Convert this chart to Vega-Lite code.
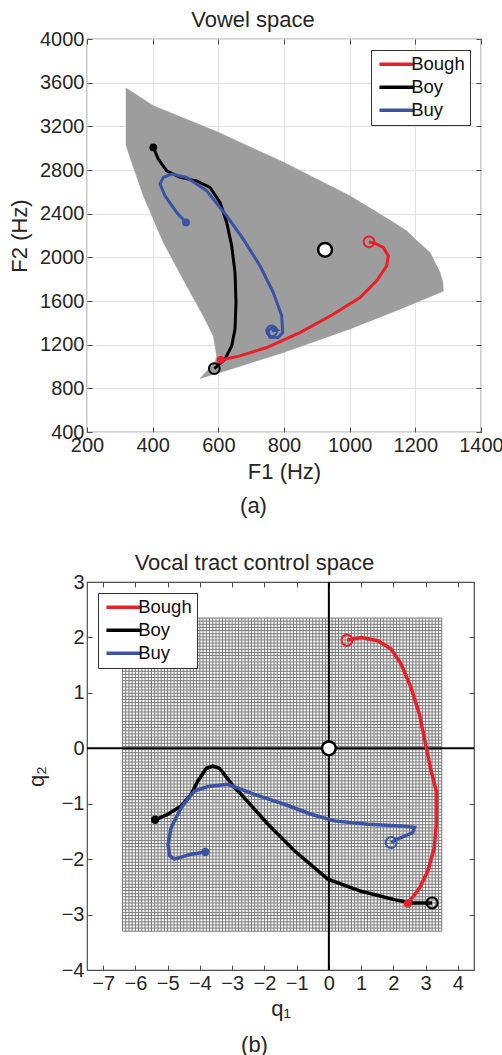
{
"$schema": "https://vega.github.io/schema/vega-lite/v6.json",
"padding": {"left": 7, "top": 8, "right": 5, "bottom": 0},
"bounds": "flush",
"spacing": 150,
"datasets": {
"meshA": [
{"F1":318.8,"F2":3551},{"F1":318.8,"F2":3028},{"F1":336.1,"F2":2870},{"F1":371.5,"F2":2564},{"F1":432.4,"F2":2136},{"F1":503.7,"F2":1738},{"F1":554.2,"F2":1463},{"F1":584.7,"F2":1280},{"F1":595,"F2":1097},{"F1":589.9,"F2":1039},{"F1":544.2,"F2":890},
{"F1":605,"F2":945},{"F1":797.9,"F2":1128},{"F1":999,"F2":1342},{"F1":1153,"F2":1525},{"F1":1285,"F2":1690},
{"F1":1284,"F2":1772},{"F1":1275.2,"F2":1861},{"F1":1244.7,"F2":2045},{"F1":1199,"F2":2167},{"F1":1173.7,"F2":2243},{"F1":1092.4,"F2":2396},{"F1":1000,"F2":2564},{"F1":799,"F2":2870},{"F1":600,"F2":3145},{"F1":402,"F2":3389},{"F1":318.8,"F2":3551}
],
"trajA": [
{"w":"Boy","F1":401.9,"F2":3007},{"w":"Boy","F1":417.2,"F2":2900},{"w":"Boy","F1":442.7,"F2":2793},{"w":"Boy","F1":483.3,"F2":2732},{"w":"Boy","F1":534.1,"F2":2701},{"w":"Boy","F1":574.6,"F2":2641},{"w":"Boy","F1":605.1,"F2":2503},{"w":"Boy","F1":625.5,"F2":2320},{"w":"Boy","F1":640.7,"F2":2105},{"w":"Boy","F1":650.8,"F2":1861},{"w":"Boy","F1":653.8,"F2":1586},{"w":"Boy","F1":650.8,"F2":1342},{"w":"Boy","F1":640.7,"F2":1188},{"w":"Boy","F1":620.3,"F2":1067},{"w":"Boy","F1":587.7,"F2":981},
{"w":"Bough","F1":607.2,"F2":1060},{"w":"Bough","F1":666,"F2":1097},{"w":"Bough","F1":747.3,"F2":1174},{"w":"Bough","F1":848.7,"F2":1311},{"w":"Bough","F1":950.2,"F2":1479},{"w":"Bough","F1":1031.5,"F2":1632},{"w":"Bough","F1":1082.3,"F2":1784},{"w":"Bough","F1":1112.8,"F2":1922},{"w":"Bough","F1":1117.7,"F2":2013},{"w":"Bough","F1":1102.4,"F2":2091},{"w":"Bough","F1":1077.2,"F2":2127},{"w":"Bough","F1":1058.9,"F2":2142},
{"w":"Buy","F1":501.5,"F2":2320},{"w":"Buy","F1":473.2,"F2":2411},{"w":"Buy","F1":437.6,"F2":2564},{"w":"Buy","F1":422.3,"F2":2671},{"w":"Buy","F1":432.4,"F2":2732},{"w":"Buy","F1":458,"F2":2762},{"w":"Buy","F1":503.7,"F2":2732},{"w":"Buy","F1":564.6,"F2":2609},{"w":"Buy","F1":625.5,"F2":2380},{"w":"Buy","F1":676,"F2":2167},{"w":"Buy","F1":726.9,"F2":1922},{"w":"Buy","F1":767.4,"F2":1678},{"w":"Buy","F1":793,"F2":1464},{"w":"Buy","F1":796,"F2":1311},{"w":"Buy","F1":782.6,"F2":1265},{"w":"Buy","F1":757,"F2":1268},{"w":"Buy","F1":751,"F2":1330},{"w":"Buy","F1":764,"F2":1360},{"w":"Buy","F1":778,"F2":1335},{"w":"Buy","F1":763,"F2":1326}
],
"startA": [{"w":"Bough","F1":607,"F2":1060},{"w":"Boy","F1":402,"F2":3007},{"w":"Buy","F1":501.5,"F2":2320}],
"endA": [{"w":"Bough","F1":1059,"F2":2142},{"w":"Boy","F1":587.7,"F2":981},{"w":"Buy","F1":762.5,"F2":1326}],
"neutralA": [{"F1":925,"F2":2069}],
"gx": [{"q1":-6.4},{"q1":-6.3},{"q1":-6.2},{"q1":-6.1},{"q1":-6.0},{"q1":-5.9},{"q1":-5.8},{"q1":-5.7},{"q1":-5.6},{"q1":-5.5},{"q1":-5.4},{"q1":-5.3},{"q1":-5.2},{"q1":-5.1},{"q1":-5.0},{"q1":-4.9},{"q1":-4.8},{"q1":-4.7},{"q1":-4.6},{"q1":-4.5},{"q1":-4.4},{"q1":-4.3},{"q1":-4.2},{"q1":-4.1},{"q1":-4.0},{"q1":-3.9},{"q1":-3.8},{"q1":-3.7},{"q1":-3.6},{"q1":-3.5},{"q1":-3.4},{"q1":-3.3},{"q1":-3.2},{"q1":-3.1},{"q1":-3.0},{"q1":-2.9},{"q1":-2.8},{"q1":-2.7},{"q1":-2.6},{"q1":-2.5},{"q1":-2.4},{"q1":-2.3},{"q1":-2.2},{"q1":-2.1},{"q1":-2.0},{"q1":-1.9},{"q1":-1.8},{"q1":-1.7},{"q1":-1.6},{"q1":-1.5},{"q1":-1.4},{"q1":-1.3},{"q1":-1.2},{"q1":-1.1},{"q1":-1.0},{"q1":-0.9},{"q1":-0.8},{"q1":-0.7},{"q1":-0.6},{"q1":-0.5},{"q1":-0.4},{"q1":-0.3},{"q1":-0.2},{"q1":-0.1},{"q1":0},{"q1":0.1},{"q1":0.2},{"q1":0.3},{"q1":0.4},{"q1":0.5},{"q1":0.6},{"q1":0.7},{"q1":0.8},{"q1":0.9},{"q1":1.0},{"q1":1.1},{"q1":1.2},{"q1":1.3},{"q1":1.4},{"q1":1.5},{"q1":1.6},{"q1":1.7},{"q1":1.8},{"q1":1.9},{"q1":2.0},{"q1":2.1},{"q1":2.2},{"q1":2.3},{"q1":2.4},{"q1":2.5},{"q1":2.6},{"q1":2.7},{"q1":2.8},{"q1":2.9},{"q1":3.0},{"q1":3.1},{"q1":3.2},{"q1":3.3},{"q1":3.4},{"q1":3.5}],
"gy": [{"q2":-3.3},{"q2":-3.2435},{"q2":-3.187},{"q2":-3.1305},{"q2":-3.074},{"q2":-3.0175},{"q2":-2.961},{"q2":-2.9045},{"q2":-2.848},{"q2":-2.7915},{"q2":-2.735},{"q2":-2.6785},{"q2":-2.622},{"q2":-2.5655},{"q2":-2.509},{"q2":-2.4525},{"q2":-2.396},{"q2":-2.3395},{"q2":-2.283},{"q2":-2.2265},{"q2":-2.17},{"q2":-2.1135},{"q2":-2.057},{"q2":-2.0005},{"q2":-1.944},{"q2":-1.8875},{"q2":-1.831},{"q2":-1.7745},{"q2":-1.718},{"q2":-1.6615},{"q2":-1.605},{"q2":-1.5485},{"q2":-1.492},{"q2":-1.4355},{"q2":-1.379},{"q2":-1.3225},{"q2":-1.266},{"q2":-1.2095},{"q2":-1.153},{"q2":-1.0965},{"q2":-1.04},{"q2":-0.9835},{"q2":-0.927},{"q2":-0.8705},{"q2":-0.814},{"q2":-0.7575},{"q2":-0.701},{"q2":-0.6445},{"q2":-0.588},{"q2":-0.5315},{"q2":-0.475},{"q2":-0.4185},{"q2":-0.362},{"q2":-0.3055},{"q2":-0.249},{"q2":-0.1925},{"q2":-0.136},{"q2":-0.0795},{"q2":-0.023},{"q2":0.0335},{"q2":0.09},{"q2":0.1465},{"q2":0.203},{"q2":0.2595},{"q2":0.316},{"q2":0.3725},{"q2":0.429},{"q2":0.4855},{"q2":0.542},{"q2":0.5985},{"q2":0.655},{"q2":0.7115},{"q2":0.768},{"q2":0.8245},{"q2":0.881},{"q2":0.9375},{"q2":0.994},{"q2":1.0505},{"q2":1.107},{"q2":1.1635},{"q2":1.22},{"q2":1.2765},{"q2":1.333},{"q2":1.3895},{"q2":1.446},{"q2":1.5025},{"q2":1.559},{"q2":1.6155},{"q2":1.672},{"q2":1.7285},{"q2":1.785},{"q2":1.8415},{"q2":1.898},{"q2":1.9545},{"q2":2.011},{"q2":2.0675},{"q2":2.124},{"q2":2.1805},{"q2":2.237},{"q2":2.2935},{"q2":2.35}],
"trajB": [
{"w":"Boy","q1":-5.39,"q2":-1.29},{"w":"Boy","q1":-4.99,"q2":-1.19},{"w":"Boy","q1":-4.58,"q2":-1.04},{"w":"Boy","q1":-4.27,"q2":-0.83},{"w":"Boy","q1":-4.06,"q2":-0.59},{"w":"Boy","q1":-3.8,"q2":-0.36},{"w":"Boy","q1":-3.6,"q2":-0.32},{"w":"Boy","q1":-3.39,"q2":-0.36},{"w":"Boy","q1":-2.93,"q2":-0.71},{"w":"Boy","q1":-2.72,"q2":-0.83},{"w":"Boy","q1":-1.89,"q2":-1.37},{"w":"Boy","q1":-1.07,"q2":-1.85},{"w":"Boy","q1":-0.03,"q2":-2.36},{"w":"Boy","q1":1.0,"q2":-2.58},{"w":"Boy","q1":2.03,"q2":-2.73},{"w":"Boy","q1":2.55,"q2":-2.79},{"w":"Boy","q1":3.2,"q2":-2.79},
{"w":"Bough","q1":2.45,"q2":-2.8},{"w":"Bough","q1":2.81,"q2":-2.52},{"w":"Bough","q1":3.07,"q2":-2.21},{"w":"Bough","q1":3.27,"q2":-1.79},{"w":"Bough","q1":3.33,"q2":-1.37},{"w":"Bough","q1":3.33,"q2":-0.77},{"w":"Bough","q1":3.17,"q2":-0.41},{"w":"Bough","q1":3.02,"q2":0.01},{"w":"Bough","q1":2.81,"q2":0.61},{"w":"Bough","q1":2.55,"q2":1.09},{"w":"Bough","q1":2.24,"q2":1.52},{"w":"Bough","q1":1.93,"q2":1.79},{"w":"Bough","q1":1.52,"q2":1.94},{"w":"Bough","q1":1.0,"q2":2.0},{"w":"Bough","q1":0.56,"q2":1.95},
{"w":"Buy","q1":-3.83,"q2":-1.87},{"w":"Buy","q1":-4.27,"q2":-1.91},{"w":"Buy","q1":-4.79,"q2":-2.0},{"w":"Buy","q1":-4.94,"q2":-1.94},{"w":"Buy","q1":-4.99,"q2":-1.73},{"w":"Buy","q1":-4.89,"q2":-1.43},{"w":"Buy","q1":-4.58,"q2":-1.07},{"w":"Buy","q1":-4.17,"q2":-0.77},{"w":"Buy","q1":-3.75,"q2":-0.69},{"w":"Buy","q1":-3.13,"q2":-0.65},{"w":"Buy","q1":-2.31,"q2":-0.83},{"w":"Buy","q1":-1.38,"q2":-1.01},{"w":"Buy","q1":-0.55,"q2":-1.19},{"w":"Buy","q1":0.17,"q2":-1.31},{"w":"Buy","q1":1.21,"q2":-1.37},{"w":"Buy","q1":2.24,"q2":-1.4},{"w":"Buy","q1":2.65,"q2":-1.43},{"w":"Buy","q1":2.6,"q2":-1.52},{"w":"Buy","q1":2.24,"q2":-1.61},{"w":"Buy","q1":1.93,"q2":-1.7}
],
"startB": [{"w":"Bough","q1":2.45,"q2":-2.8},{"w":"Boy","q1":-5.39,"q2":-1.29},{"w":"Buy","q1":-3.83,"q2":-1.87}],
"endB": [{"w":"Bough","q1":0.56,"q2":1.95},{"w":"Boy","q1":3.2,"q2":-2.79},{"w":"Buy","q1":1.93,"q2":-1.7}],
"neutralB": [{"q1":0,"q2":0}]
},
"vconcat": [
{
"width": 394, "height": 393,
"title": {"text": "Vowel space", "frame": "group", "dx": -31, "offset": -3},
"resolve": {"axis": {"x": "independent", "y": "independent"}},
"layer": [
{"data": {"name": "meshA"},
 "mark": {"type": "line", "fill": "#9d9d9d", "stroke": "#9d9d9d", "strokeWidth": 0.5},
 "encoding": {
  "x": {"field": "F1", "type": "quantitative", "scale": {"domain": [200, 1400], "nice": false, "zero": false},
        "axis": {"orient": "bottom", "values": [200,400,600,800,1000,1200,1400], "format": "d", "title": "F1 (Hz)", "grid": true, "labelFlush": false, "labelOverlap": false, "titlePadding": 6}},
  "y": {"field": "F2", "type": "quantitative", "scale": {"domain": [400, 4000], "nice": false, "zero": false},
        "axis": {"orient": "left", "values": [400,800,1200,1600,2000,2400,2800,3200,3600,4000], "format": "d", "title": "F2 (Hz)", "grid": true, "labelFlush": false, "labelOverlap": false, "titlePadding": 8}},
  "order": {"value": null}
 }},
{"data": {"name": "trajA"},
 "mark": {"type": "line", "strokeWidth": 3},
 "encoding": {
  "x": {"field": "F1", "type": "quantitative", "axis": {"orient": "top", "values": [200,400,600,800,1000,1200,1400], "labels": false, "title": null, "grid": false}},
  "y": {"field": "F2", "type": "quantitative", "axis": {"orient": "right", "values": [400,800,1200,1600,2000,2400,2800,3200,3600,4000], "labels": false, "title": null, "grid": false}},
  "color": {"field": "w", "type": "nominal", "scale": {"domain": ["Bough", "Boy", "Buy"], "range": ["#e8202a", "#000000", "#3a53a4"]},
            "legend": {"title": null, "orient": "top-right", "offset": 11}},
  "order": {"value": null}
 }},
{"data": {"name": "startA"},
 "mark": {"type": "point", "filled": true, "size": 60, "opacity": 1},
 "encoding": {
  "x": {"field": "F1", "type": "quantitative", "axis": {"orient": "bottom", "title": "(a)", "labels": false, "ticks": false, "domain": false, "grid": false, "titlePadding": 63, "titleX": 166}},
  "y": {"field": "F2", "type": "quantitative", "axis": null},
  "color": {"field": "w", "type": "nominal", "legend": null}
 }},
{"data": {"name": "endA"},
 "mark": {"type": "point", "filled": false, "size": 115, "strokeWidth": 2, "opacity": 1},
 "encoding": {
  "x": {"field": "F1", "type": "quantitative", "axis": null},
  "y": {"field": "F2", "type": "quantitative", "axis": null},
  "color": {"field": "w", "type": "nominal", "legend": null}
 }},
{"data": {"name": "neutralA"},
 "mark": {"type": "point", "filled": true, "fill": "white", "stroke": "black", "strokeWidth": 2.5, "size": 190, "opacity": 1},
 "encoding": {
  "x": {"field": "F1", "type": "quantitative", "axis": null},
  "y": {"field": "F2", "type": "quantitative", "axis": null}
 }}
]
},
{
"width": 387, "height": 388,
"title": {"text": "Vocal tract control space", "frame": "group", "dx": -26, "offset": -3},
"resolve": {"axis": {"x": "independent", "y": "independent"}},
"layer": [
{"data": {"name": "gx"},
 "mark": {"type": "rule", "stroke": "#7a7a7a", "strokeWidth": 1},
 "encoding": {
  "x": {"field": "q1", "type": "quantitative", "scale": {"domain": [-7.5, 4.5], "nice": false, "zero": false},
        "axis": {"orient": "bottom", "values": [-7,-6,-5,-4,-3,-2,-1,0,1,2,3,4], "format": "d", "title": "q₁", "grid": false, "labelFlush": false, "labelOverlap": false, "titlePadding": 5}},
  "y": {"datum": -3.3, "type": "quantitative", "scale": {"domain": [-4, 3], "nice": false, "zero": false},
        "axis": {"orient": "left", "values": [-4,-3,-2,-1,0,1,2,3], "format": "d", "title": "q₂", "grid": false, "labelFlush": false, "labelOverlap": false, "titlePadding": 13}},
  "y2": {"datum": 2.35}
 }},
{"data": {"name": "gy"},
 "mark": {"type": "rule", "stroke": "#7a7a7a", "strokeWidth": 1},
 "encoding": {
  "y": {"field": "q2", "type": "quantitative", "axis": {"orient": "right", "values": [-4,-3,-2,-1,0,1,2,3], "labels": false, "title": null, "grid": false}},
  "x": {"datum": -6.4, "type": "quantitative", "axis": {"orient": "top", "values": [-7,-6,-5,-4,-3,-2,-1,0,1,2,3,4], "labels": false, "title": null, "grid": false}},
  "x2": {"datum": 3.5}
 }},
{"data": {"values": [{}]},
 "mark": {"type": "rule", "stroke": "black", "strokeWidth": 2},
 "encoding": {"x": {"datum": 0, "type": "quantitative", "axis": {"orient": "bottom", "title": "(b)", "labels": false, "ticks": false, "domain": false, "grid": false, "titlePadding": 64, "titleX": 167}}}},
{"data": {"values": [{}]},
 "mark": {"type": "rule", "stroke": "black", "strokeWidth": 2},
 "encoding": {"y": {"datum": 0, "type": "quantitative", "axis": null}}},
{"data": {"name": "trajB"},
 "mark": {"type": "line", "strokeWidth": 3.5},
 "encoding": {
  "x": {"field": "q1", "type": "quantitative", "axis": null},
  "y": {"field": "q2", "type": "quantitative", "axis": null},
  "color": {"field": "w", "type": "nominal", "scale": {"domain": ["Bough", "Boy", "Buy"], "range": ["#e8202a", "#000000", "#3a53a4"]},
            "legend": {"title": null, "orient": "top-left", "offset": 11}},
  "order": {"value": null}
 }},
{"data": {"name": "startB"},
 "mark": {"type": "point", "filled": true, "size": 70, "opacity": 1},
 "encoding": {
  "x": {"field": "q1", "type": "quantitative", "axis": null},
  "y": {"field": "q2", "type": "quantitative", "axis": null},
  "color": {"field": "w", "type": "nominal", "legend": null}
 }},
{"data": {"name": "endB"},
 "mark": {"type": "point", "filled": false, "size": 120, "strokeWidth": 2, "opacity": 1},
 "encoding": {
  "x": {"field": "q1", "type": "quantitative", "axis": null},
  "y": {"field": "q2", "type": "quantitative", "axis": null},
  "color": {"field": "w", "type": "nominal", "legend": null}
 }},
{"data": {"name": "neutralB"},
 "mark": {"type": "point", "filled": true, "fill": "white", "stroke": "black", "strokeWidth": 2.5, "size": 190, "opacity": 1},
 "encoding": {
  "x": {"field": "q1", "type": "quantitative", "axis": null},
  "y": {"field": "q2", "type": "quantitative", "axis": null}
 }}
]
}
],
"config": {
 "font": "Liberation Sans",
 "view": {"stroke": "#4d4d4d", "strokeWidth": 1.2},
 "axis": {"labelFontSize": 20, "titleFontSize": 22, "labelColor": "#262626", "titleColor": "#262626", "titleFontWeight": "normal", "domain": false, "tickColor": "#4d4d4d", "tickSize": -5, "tickWidth": 1, "labelPadding": 8, "gridColor": "#e2e2e2", "gridWidth": 1},
 "title": {"fontSize": 22, "fontWeight": "normal", "color": "#262626"},
 "legend": {"fillColor": "white", "strokeColor": "#333333", "strokeWidth": 1, "padding": 5, "labelFontSize": 18.5, "labelColor": "#111111", "symbolType": "M-3,0H3", "symbolSize": 136, "symbolOffset": 11.7, "symbolStrokeWidth": 3.5, "labelOffset": 5, "rowPadding": 4, "cornerRadius": 0}
}
}
